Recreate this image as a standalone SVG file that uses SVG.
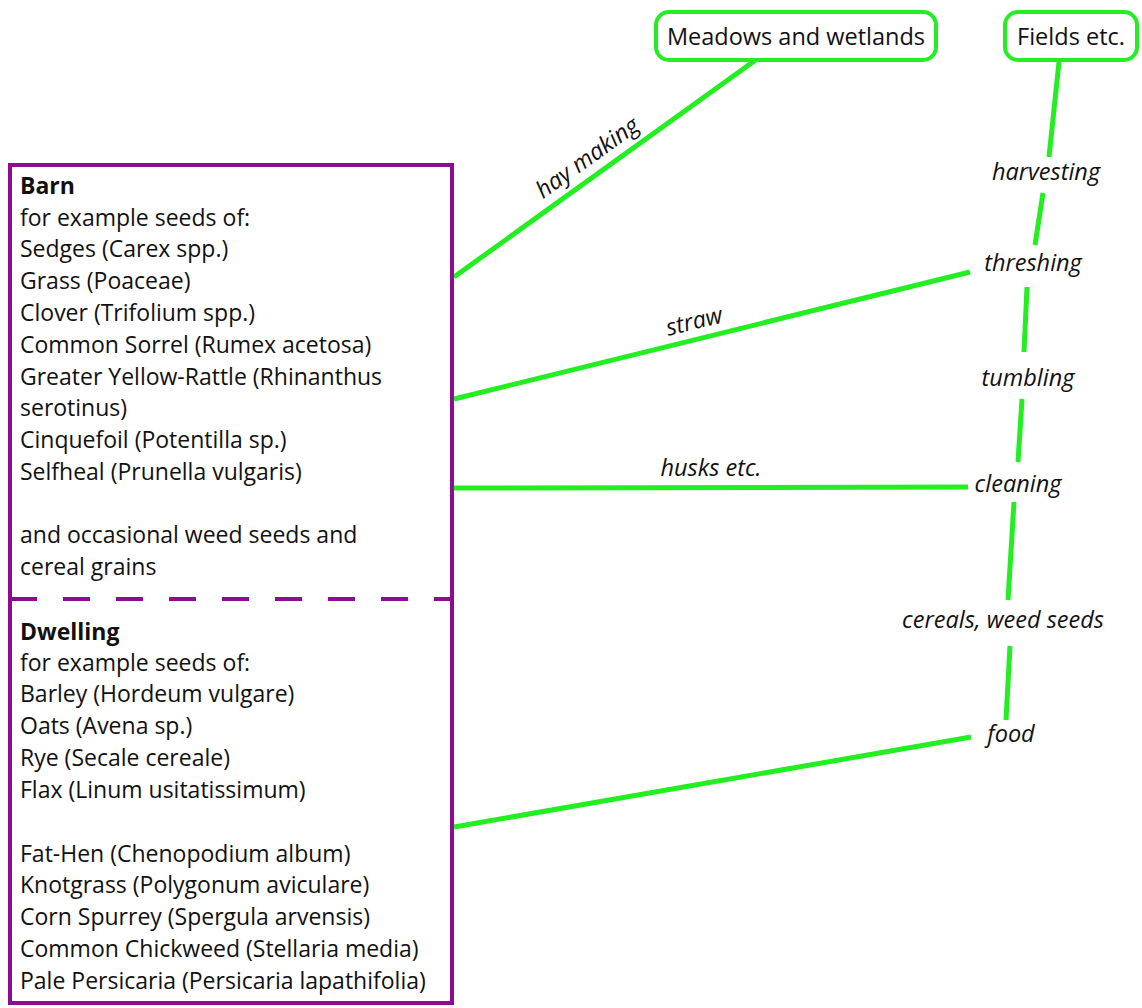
<svg xmlns="http://www.w3.org/2000/svg" width="1142" height="1008" viewBox="0 0 1142 1008">
<style>
.t{font-family:"Open Sans","Noto Sans","Liberation Sans",sans-serif;font-size:23px;fill:#111}
.b{font-weight:bold}
.i{font-family:"Open Sans","Noto Sans","Liberation Sans",sans-serif;font-size:23.5px;font-style:italic;fill:#111}
.c{stroke:#22ee22;stroke-width:5;fill:none;stroke-linecap:butt}
.n{fill:#fff;stroke:#22ee22;stroke-width:4}
</style>
<rect width="1142" height="1008" fill="#fff"/>
<g id="connectors">
<line class="c" x1="454" y1="277" x2="757" y2="59"/>
<line class="c" x1="454" y1="399" x2="970" y2="272"/>
<line class="c" x1="454" y1="488" x2="968" y2="487"/>
<line class="c" x1="454" y1="827" x2="971" y2="737"/>
<line class="c" x1="1059" y1="62" x2="1049" y2="157"/>
<line class="c" x1="1043" y1="193" x2="1035" y2="245"/>
<line class="c" x1="1027" y1="287" x2="1024" y2="352"/>
<line class="c" x1="1022" y1="399" x2="1018" y2="462"/>
<line class="c" x1="1014" y1="502" x2="1008" y2="600"/>
<line class="c" x1="1010" y1="646" x2="1006" y2="720"/>
<text class="i" transform="translate(592,164) rotate(-35.7)" text-anchor="middle">hay making</text>
<text class="i" transform="translate(696,329) rotate(-13.9)" text-anchor="middle">straw</text>
<text class="i" x="711" y="476" text-anchor="middle">husks etc.</text>
</g>
<g id="meadows">
<rect class="n" x="656" y="12" width="280" height="48" rx="13"/>
<text class="t" x="796" y="45" text-anchor="middle" style="font-size:23.5px">Meadows and wetlands</text>
</g>
<g id="fields">
<rect class="n" x="1005" y="12" width="132" height="48" rx="13"/>
<text class="t" x="1071" y="45" text-anchor="middle" style="font-size:23.5px">Fields etc.</text>
</g>
<g id="harvesting"><text class="i" x="1046" y="180" text-anchor="middle">harvesting</text></g>
<g id="threshing"><text class="i" x="1033" y="271" text-anchor="middle">threshing</text></g>
<g id="tumbling"><text class="i" x="1028" y="386" text-anchor="middle">tumbling</text></g>
<g id="cleaning"><text class="i" x="1018" y="492" text-anchor="middle">cleaning</text></g>
<g id="cereals"><text class="i" x="1003" y="628" text-anchor="middle">cereals, weed seeds</text></g>
<g id="food"><text class="i" x="1011" y="742" text-anchor="middle">food</text></g>
<g id="barn">
<rect x="10" y="165" width="442" height="838" fill="none" stroke="#8e0b94" stroke-width="4"/>
<line x1="10" y1="599" x2="452" y2="599" stroke="#8e0b94" stroke-width="4" stroke-dasharray="27,26"/>
<text class="t b" x="20" y="194">Barn</text>
<text class="t" x="20" y="226">for example seeds of:</text>
<text class="t" x="20" y="257">Sedges (Carex spp.)</text>
<text class="t" x="20" y="289">Grass (Poaceae)</text>
<text class="t" x="20" y="321">Clover (Trifolium spp.)</text>
<text class="t" x="20" y="353">Common Sorrel (Rumex acetosa)</text>
<text class="t" x="20" y="385">Greater Yellow-Rattle (Rhinanthus</text>
<text class="t" x="20" y="416">serotinus)</text>
<text class="t" x="20" y="448">Cinquefoil (Potentilla sp.)</text>
<text class="t" x="20" y="480">Selfheal (Prunella vulgaris)</text>
<text class="t" x="20" y="543">and occasional weed seeds and</text>
<text class="t" x="20" y="575">cereal grains</text>
</g>
<g id="dwelling">
<text class="t b" x="20" y="640">Dwelling</text>
<text class="t" x="20" y="671">for example seeds of:</text>
<text class="t" x="20" y="702">Barley (Hordeum vulgare)</text>
<text class="t" x="20" y="734">Oats (Avena sp.)</text>
<text class="t" x="20" y="766">Rye (Secale cereale)</text>
<text class="t" x="20" y="798">Flax (Linum usitatissimum)</text>
<text class="t" x="20" y="862">Fat-Hen (Chenopodium album)</text>
<text class="t" x="20" y="893">Knotgrass (Polygonum aviculare)</text>
<text class="t" x="20" y="925">Corn Spurrey (Spergula arvensis)</text>
<text class="t" x="20" y="957">Common Chickweed (Stellaria media)</text>
<text class="t" x="20" y="989">Pale Persicaria (Persicaria lapathifolia)</text>
</g>
</svg>
